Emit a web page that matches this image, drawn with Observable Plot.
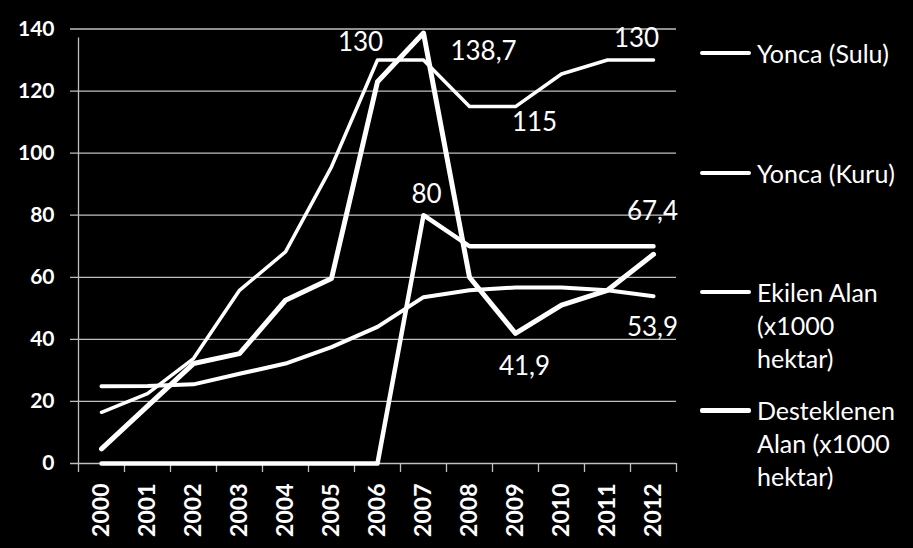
<!DOCTYPE html>
<html><head><meta charset="utf-8">
<script src="https://cdn.jsdelivr.net/npm/d3@7"></script>
<script src="https://cdn.jsdelivr.net/npm/@observablehq/plot@0.6"></script>
<style>
html,body{margin:0;padding:0;background:#000;}
#wrap{position:relative;width:913px;height:548px;background:#000;font-family:Lato,"Open Sans",sans-serif;color:#fff;overflow:hidden}
#wrap svg{position:absolute;left:0;top:0;background:#000}
.leg{position:absolute;left:700px;width:210px;}
.leg .sw{position:absolute;left:0;width:51px;background:#fff;}
.leg .tx{position:absolute;left:57px;width:146px;font-size:25px;line-height:33px;color:#fff;white-space:normal}
</style></head><body><div id="wrap"></div>
<script>
const years = [2000,2001,2002,2003,2004,2005,2006,2007,2008,2009,2010,2011,2012];
const yoncaSulu = [16.5,22.5,33.8,55.8,68.2,95.6,130,130,115,115,125.5,130,130];
const yoncaKuru = [4.7,18.5,32.2,35.4,52.6,59.6,123,138.7,60,41.9,51,55.8,67.4];
const ekilenAlan = [24.9,25,25.5,28.9,32.2,37.5,44,53.6,55.8,56.7,56.7,55.8,53.9];
const desteklenenAlan = [0,0,0,0,0,0,0,80,70,70,70,70,70];
const seriesNames = ["Yonca (Sulu)","Yonca (Kuru)","Ekilen Alan (x1000 hektar)","Desteklenen Alan (x1000 hektar)"];
const yTicks = [0,20,40,60,80,100,120,140];
// labelled points: [series index, year]
const labelPoints = [[0,2006],[1,2007],[0,2009],[0,2012],[3,2007],[1,2012],[1,2009],[2,2012]];

// styling / layout (not data)
const seriesValues = [yoncaSulu, yoncaKuru, ekilenAlan, desteklenenAlan];
const lineWidths = [3.5, 5, 4, 4.5];
const labelOffsets = [[-17,-17],[60,19],[19,16],[-17,-21],[3,-21],[-1,-43],[9,33],[-1,31]];
const legendCenters = [53, 173, 292, 410];
const legendWidths = [4, 4, 4, 5];

const bounds = years.map(y => y - 0.5).concat([years[years.length-1] + 0.5]);
const x0 = bounds[0], x1 = bounds[bounds.length-1];
const grid = "#bfbfbf";

const marks = [
  Plot.ruleY(yTicks, {y: d => d, x1: x0, x2: x1, stroke: grid, strokeWidth: 1.3, insetLeft: -8}),
  Plot.ruleX([x0], {x: d => d, y1: 0, y2: yTicks[yTicks.length-1], stroke: grid, strokeWidth: 1.3, insetBottom: -9}),
  Plot.ruleX(bounds, {x: d => d, y1: 0, y2: 0, stroke: grid, strokeWidth: 1.3, insetBottom: -9}),
  Plot.text(yTicks, {x: x0, y: d => d, text: d => String(d), textAnchor: "end", dx: -24, fill: "#fff", fontSize: 21, fontWeight: "bold"}),
  Plot.text(years, {x: d => d, y: 0, text: d => String(d), rotate: -90, textAnchor: "end", dy: 20, fill: "#fff", fontSize: 23, fontWeight: "bold"})
];
seriesValues.forEach((vals, s) => {
  marks.push(Plot.line(years, {x: d => d, y: (d, i) => vals[i], stroke: "#fff", strokeWidth: lineWidths[s], strokeLinejoin: "round", strokeLinecap: "round"}));
});
labelPoints.forEach(([s, yr], k) => {
  const i = years.indexOf(yr);
  const v = seriesValues[s][i];
  marks.push(Plot.text([{yr, v}], {x: "yr", y: "v", text: d => String(d.v).replace(".", ","), dx: labelOffsets[k][0], dy: labelOffsets[k][1], fill: "#fff", fontSize: 26}));
});

const chart = Plot.plot({
  width: 913, height: 548,
  marginLeft: 78, marginRight: 237, marginTop: 28.5, marginBottom: 85,
  style: {background: "#000", color: "#fff", fontFamily: "Lato, 'Open Sans', sans-serif"},
  x: {domain: [x0, x1], axis: null},
  y: {domain: [0, yTicks[yTicks.length-1]], axis: null},
  marks
});
const wrap = document.getElementById("wrap");
wrap.appendChild(chart);

seriesNames.forEach((name, s) => {
  const item = document.createElement("div");
  item.className = "leg";
  item.style.top = (legendCenters[s] - 16.5) + "px";
  const sw = document.createElement("div");
  sw.className = "sw";
  sw.style.height = legendWidths[s] + "px";
  sw.style.top = (16.5 - legendWidths[s] / 2) + "px";
  sw.style.borderRadius = "2px";
  const tx = document.createElement("div");
  tx.className = "tx";
  tx.textContent = name;
  item.appendChild(sw); item.appendChild(tx);
  wrap.appendChild(item);
});
</script></body></html>
